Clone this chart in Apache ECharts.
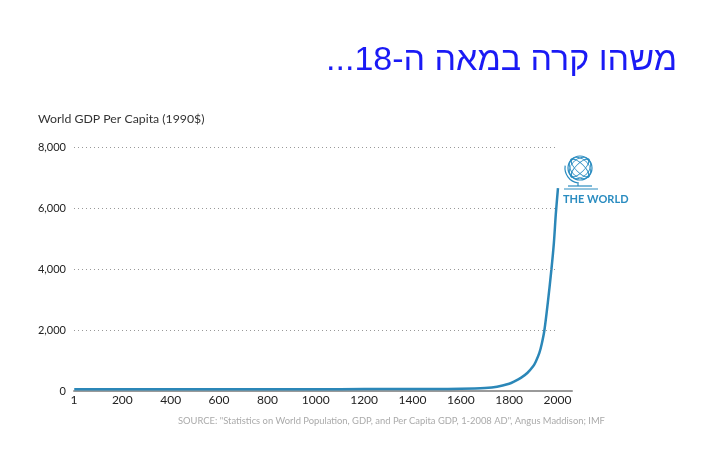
<!DOCTYPE html>
<html>
<head>
<meta charset="utf-8">
<script src="https://cdn.jsdelivr.net/npm/echarts@6/dist/echarts.min.js"></script>
<style>
  html, body { margin: 0; padding: 0; background: #fff; }
  #chart { width: 719px; height: 458px; }
</style>
</head>
<body>
<div id="chart"></div>
<script>
// values
const years = [1, 200, 400, 600, 800, 1000, 1200, 1400, 1500, 1600, 1700, 1750, 1800, 1820, 1850, 1875, 1900, 1910, 1925, 1935, 1946, 1960, 1975, 1985, 1993, 2002]
const gdp = [60, 60, 60, 60, 60, 60, 62, 65, 68, 75, 100, 140, 240, 310, 440, 590, 820, 960, 1250, 1550, 2000, 2900, 4000, 4850, 5800, 6650]
const gridValues = [2000, 4000, 6000, 8000]
const gridEnd = 1990

const mainTitle = '\u202Bמשהו קרה במאה ה-18...\u202C'
const axisTitle = 'World GDP Per Capita (1990$)'
const sourceText = 'SOURCE: "Statistics on World Population, GDP, and Per Capita GDP, 1-2008 AD", Angus Maddison; IMF'

const blue = '#2b87b8'
const iconBlue = '#2a8cc0'

const chart = echarts.init(document.getElementById('chart'))

function globe(cx, cy, r) {
  const lw = 1.2
  const items = [
    { type: 'circle', shape: { cx, cy, r }, style: { fill: 'none', stroke: iconBlue, lineWidth: lw } },
  ]
  // crosshatch: squashed circles turned both ways
  ;[-Math.PI / 4, Math.PI / 4].forEach(function (rot) {
    ;[0.35, 0.75].forEach(function (sx) {
      items.push({
        type: 'circle',
        x: cx, y: cy, rotation: rot, scaleX: sx,
        shape: { cx: 0, cy: 0, r },
        style: { fill: 'none', stroke: iconBlue, lineWidth: lw / sx * 0.6 },
      })
    })
  })
  // stand
  items.push(
    { type: 'arc', shape: { cx, cy, r: r + 3, startAngle: Math.PI * 0.55, endAngle: Math.PI * 1.05 }, style: { stroke: iconBlue, lineWidth: lw, fill: 'none' } },
    { type: 'line', shape: { x1: cx - 2, y1: cy + r + 2, x2: cx - 2, y2: cy + r + 6 }, style: { stroke: iconBlue, lineWidth: lw } },
    { type: 'line', shape: { x1: cx - 12, y1: cy + r + 6, x2: cx + 12, y2: cy + r + 6 }, style: { stroke: iconBlue, lineWidth: lw } },
    { type: 'line', shape: { x1: cx - 16, y1: cy + r + 9, x2: cx + 18, y2: cy + r + 9 }, style: { stroke: iconBlue, lineWidth: lw } }
  )
  return items
}

const options = {
  animation: false,
  backgroundColor: '#fff',
  title: [
    {
      text: mainTitle,
      right: 37,
      top: 39,
      textStyle: { fontFamily: 'Liberation Sans', fontSize: 34, fontWeight: 'normal', color: '#1a1af5' },
    },
    {
      text: axisTitle,
      left: 38,
      top: 113,
      padding: 0,
      textStyle: { fontFamily: 'Lato', fontSize: 12.3, fontWeight: 'normal', color: '#333' },
    },
    {
      text: sourceText,
      left: 178,
      top: 416,
      padding: 0,
      textStyle: { fontFamily: 'Lato', fontSize: 9.4, fontWeight: 'normal', color: '#aaa' },
    },
  ],
  grid: {
    left: 74,
    right: 147,
    top: 147,
    bottom: 67,
  },
  xAxis: {
    type: 'value',
    min: 0,
    max: 2060,
    interval: 200,
    axisLine: { lineStyle: { color: '#9a9a9a', width: 2 } },
    axisTick: { show: false },
    splitLine: { show: false },
    axisLabel: {
      margin: 3,
      fontFamily: 'Lato',
      fontSize: 12,
      color: '#222',
      formatter: function (v) {
        if (v === 0) return '1'
        return v % 200 === 0 ? String(v) : ''
      },
    },
  },
  yAxis: {
    type: 'value',
    min: 0,
    max: 8000,
    interval: 2000,
    axisLine: { show: false },
    axisTick: { show: false },
    splitLine: { show: false },
    axisLabel: {
      margin: 8,
      fontFamily: 'Lato',
      fontSize: 11,
      color: '#222',
      formatter: function (v) {
        return v.toLocaleString('en-US')
      },
    },
  },
  series: [
    {
      type: 'line',
      smooth: 0.3,
      symbol: 'none',
      data: years.map((y, i) => [y, gdp[i]]),
      lineStyle: { color: blue, width: 2.5 },
      markLine: {
        silent: true,
        symbol: 'none',
        label: { show: false },
        lineStyle: { color: '#999', type: [1, 3], width: 1 },
        data: gridValues.map((v) => [{ coord: [0, v] }, { coord: [gridEnd, v] }]),
      },
      z: 3,
    },
  ],
  graphic: [
    ...globe(580, 168, 12),
    {
      type: 'text',
      x: 563,
      y: 194,
      style: { text: 'THE WORLD', fontFamily: 'Lato', fontWeight: 'bold', fontSize: 11, fill: iconBlue },
    },
  ],
}

chart.setOption(options)
</script>
</body>
</html>
